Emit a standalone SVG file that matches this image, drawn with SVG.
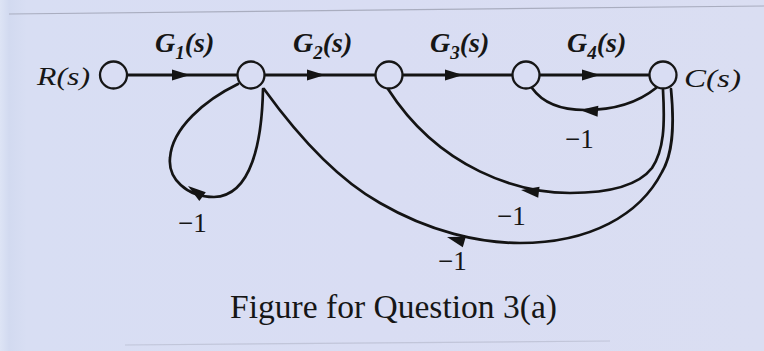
<svg xmlns="http://www.w3.org/2000/svg" width="764" height="351" viewBox="0 0 764 351">
  <defs>
    <linearGradient id="bg" x1="0" y1="0" x2="1" y2="0">
      <stop offset="0" stop-color="#dde4f5"/>
      <stop offset="0.012" stop-color="#d2daf0"/>
      <stop offset="0.035" stop-color="#d8def3"/>
      <stop offset="0.5" stop-color="#d9ddf3"/>
      <stop offset="1" stop-color="#dadef2"/>
    </linearGradient>
    <path id="ah" d="M0,0 L-18,-5.5 L-18,5.5 Z"/>
    <style>
      .node circle { fill: #d9ddf3; stroke: #161616; stroke-width: 2.3; }
      .edge { fill: none; stroke: #141414; stroke-width: 2.7; stroke-linecap: round; }
      .main { stroke-width: 3; }
      .arrow { fill: #141414; }
      .lab { font-family: "Liberation Serif", "Times New Roman", serif; fill: #161616; }
      .g { font-style: italic; font-weight: bold; font-size: 28px; }
      .io { font-style: italic; font-size: 26px; }
      .m1 { font-size: 27px; }
      .cap { font-size: 33px; }
      .edgeline { stroke: #a9adbf; stroke-width: 1.2; fill: none; }
    </style>
  </defs>

  <rect x="0" y="0" width="764" height="351" fill="url(#bg)"/>
  <path class="edgeline" d="M9,14 L764,6"/>
  <path class="edgeline" d="M125,345 L610,341" opacity="0.5"/>

  <g id="connectors">
    <line class="edge main" x1="127" y1="75" x2="237.5" y2="75"/>
    <line class="edge main" x1="264.5" y1="75" x2="375.5" y2="75"/>
    <line class="edge main" x1="402.5" y1="75" x2="512.5" y2="75"/>
    <line class="edge main" x1="539.5" y1="75" x2="649.5" y2="75"/>
    <use class="arrow" href="#ah" transform="translate(190,75)"/>
    <use class="arrow" href="#ah" transform="translate(325,75)"/>
    <use class="arrow" href="#ah" transform="translate(463,75)"/>
    <use class="arrow" href="#ah" transform="translate(600,75)"/>

    <path id="loop-self" class="edge" d="M263,89 C262,140 252,196 214,197 C186,197 168,178 170,158 C172,128 205,100 238,84"/>
    <use class="arrow" href="#ah" transform="translate(188,186) rotate(216)"/>

    <path id="loop-c4" class="edge" d="M656,88 C635,105 610,110 585,110 C560,110 542,102 532,88"/>
    <use class="arrow" href="#ah" transform="translate(580,110) rotate(184)"/>

    <path id="loop-c3" class="edge" d="M663,90 C665,125 664,150 652,168 C638,186 610,193 570,193 C520,193 440,170 388,89"/>
    <use class="arrow" href="#ah" transform="translate(521,190) rotate(187)"/>

    <path id="loop-c2" class="edge" d="M671,89 C675,130 672,155 662,172 C640,215 590,243 520,243 C480,243 430,232 380,203 C330,175 290,125 264,89"/>
    <use class="arrow" href="#ah" transform="translate(447,237) rotate(196)"/>
  </g>

  <g id="node-R" class="node"><circle cx="113.5" cy="75" r="13.5"/></g>
  <g id="node-2" class="node"><circle cx="251" cy="75" r="13.5"/></g>
  <g id="node-3" class="node"><circle cx="389" cy="75" r="13.5"/></g>
  <g id="node-4" class="node"><circle cx="526" cy="75" r="13.5"/></g>
  <g id="node-C" class="node"><circle cx="663" cy="75" r="13.5"/></g>

  <g id="labels">
    <text class="lab io" x="37" y="85" textLength="53" lengthAdjust="spacingAndGlyphs">R(s)</text>
    <text class="lab io" x="684" y="87" textLength="57" lengthAdjust="spacingAndGlyphs">C(s)</text>

    <text class="lab g" x="155" y="52">G<tspan font-size="19" dy="7">1</tspan><tspan dy="-7">(s)</tspan></text>
    <text class="lab g" x="293" y="52">G<tspan font-size="19" dy="7">2</tspan><tspan dy="-7">(s)</tspan></text>
    <text class="lab g" x="430" y="52">G<tspan font-size="19" dy="7">3</tspan><tspan dy="-7">(s)</tspan></text>
    <text class="lab g" x="567" y="52">G<tspan font-size="19" dy="7">4</tspan><tspan dy="-7">(s)</tspan></text>

    <text class="lab m1" x="178" y="232">−1</text>
    <text class="lab m1" x="565" y="148">−1</text>
    <text class="lab m1" x="497" y="225">−1</text>
    <text class="lab m1" x="438" y="270">−1</text>

    <text class="lab cap" x="230" y="318" textLength="327" lengthAdjust="spacingAndGlyphs">Figure for Question 3(a)</text>
  </g>
</svg>
